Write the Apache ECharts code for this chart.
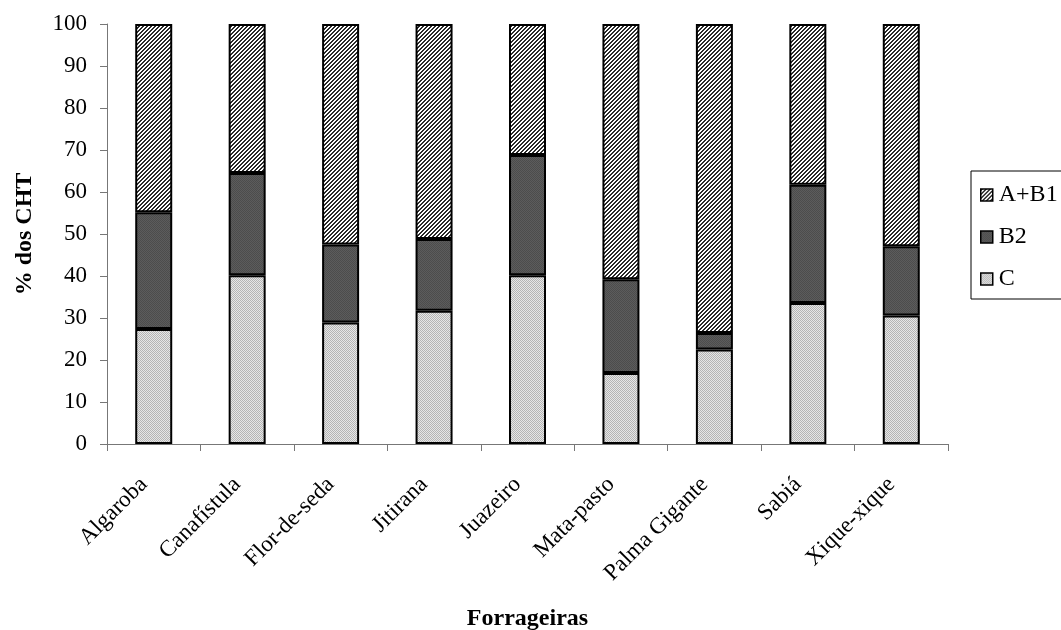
<!DOCTYPE html>
<html>
<head>
<meta charset="utf-8">
<script src="https://cdn.jsdelivr.net/npm/echarts@6/dist/echarts.min.js"></script>
<style>html,body{margin:0;padding:0;background:#fff}#c{width:1061px;height:630px}</style>
</head>
<body>
<div id="c"></div>
<script>
var categories = ['Algaroba','Canafístula','Flor-de-seda','Jitirana','Juazeiro','Mata-pasto','Palma Gigante','Sabiá','Xique-xique'];
var seriesC = [27.4, 40.2, 28.9, 31.7, 40.2, 16.9, 22.5, 33.6, 30.6];
var seriesB2 = [27.8, 24.3, 18.6, 17.1, 28.6, 22.3, 3.9, 28.1, 16.5];
var seriesAB1 = [44.8, 35.5, 52.5, 51.2, 31.2, 60.8, 73.6, 38.3, 52.9];
var yTicks = [0,10,20,30,40,50,60,70,80,90,100];

function makePattern(size, bg, fg, fn) {
  var cv = document.createElement('canvas');
  cv.width = size; cv.height = size;
  var ctx = cv.getContext('2d');
  ctx.fillStyle = bg; ctx.fillRect(0,0,size,size);
  ctx.fillStyle = fg;
  for (var x=0;x<size;x++) for (var y=0;y<size;y++) if (fn(x,y)) ctx.fillRect(x,y,1,1);
  return {image: cv, repeat: 'repeat'};
}
var patAB1 = makePattern(4, '#ffffff', '#2a2a2a', function(x,y){ var d=(x+y)%4; return d===0||d===1; });
var patB2 = makePattern(2, '#5c5c5c', '#4c4c4c', function(x,y){ return (x+y)%2===0; });
var patC = makePattern(2, '#e6e6e6', '#b4b4b4', function(x,y){ return (x+y)%2===0; });

var font = 'Liberation Serif';
var chart = echarts.init(document.getElementById('c'), null, {renderer:'canvas'});
function bar(name, data, color){
  return {
    name: name, type: 'bar', stack: 'total', data: data, barWidth: 37,
    itemStyle: {color: color, borderColor: '#000', borderWidth: 2},
    emphasis: {disabled: true}
  };
}
chart.setOption({
  animation: false,
  backgroundColor: '#fff',
  textStyle: {fontFamily: font},
  grid: {left: 107, right: 113, top: 24, bottom: 186, containLabel: false, outerBoundsMode: 'none'},
  legend: {
    orient: 'vertical', left: 971, top: 171,
    data: ['A+B1','B2','C'],
    itemWidth: 12, itemHeight: 12, itemGap: 18,
    padding: [12, 30, 8, 9],
    borderColor: '#000', borderWidth: 1,
    textStyle: {fontFamily: font, fontSize: 24, color: '#000', padding: [0,0,0,1]},
    icon: 'rect', selectedMode: false,
    itemStyle: {borderColor: '#000', borderWidth: 1.5}
  },
  xAxis: {
    type: 'category', data: categories,
    name: 'Forrageiras', nameLocation: 'middle', nameGap: 163,
    nameTextStyle: {fontFamily: font, fontSize: 24, fontWeight: 'bold', color: '#000'},
    axisLine: {lineStyle: {color: '#777', width: 1}},
    axisTick: {show: true, length: 7, lineStyle: {color: '#777'}},
    axisLabel: {rotate: 45, fontFamily: font, fontSize: 23, color: '#000', margin: 27, interval: 0, padding: [0, 14, 0, 0]}
  },
  yAxis: {
    type: 'value', min: yTicks[0], max: yTicks[yTicks.length-1], interval: 10,
    name: '% dos CHT', nameLocation: 'middle', nameGap: 70,
    nameTextStyle: {fontFamily: font, fontSize: 24, fontWeight: 'bold', color: '#000'},
    axisLine: {show: true, lineStyle: {color: '#777', width: 1}},
    axisTick: {show: true, length: 7, inside: false, lineStyle: {color: '#777'}},
    axisLabel: {fontFamily: font, fontSize: 23, color: '#000', margin: 20},
    splitLine: {show: false}
  },
  series: [
    bar('C', seriesC, patC),
    bar('B2', seriesB2, patB2),
    bar('A+B1', seriesAB1, patAB1)
  ]
});
</script>
</body>
</html>
